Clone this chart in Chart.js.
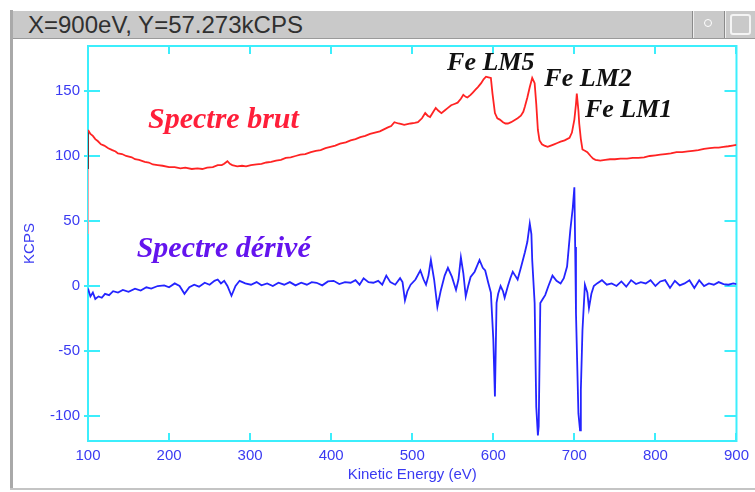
<!DOCTYPE html>
<html>
<head>
<meta charset="utf-8">
<script src="https://cdn.jsdelivr.net/npm/chart.js@4.4.1/dist/chart.umd.min.js"></script>
<style>
  body { margin: 0; background: #fff; }
  #wrap { position: relative; width: 755px; height: 492px; overflow: hidden; }
  #chart { position: absolute; left: 0; top: 0; }
  .bar { position: absolute; background: #c9c9c9; }
  #titlebar { left: 13px; top: 11px; width: 742px; height: 27px; border-bottom: 1px solid #9a9a9a; }
  #titletext { position: absolute; left: 15px; top: 0; line-height: 27px; font: 24px "Liberation Sans", Arial, sans-serif; color: #303030; }
  .sep { position: absolute; top: 0; width: 1px; height: 27px; background: #8a8a8a; border-right: 1px solid #eee; }
  #dot { position: absolute; left: 691px; top: 8px; width: 6px; height: 6px; border: 1px solid #fff; border-radius: 50%; }
  #box { position: absolute; left: 717px; top: 3px; width: 17px; height: 17px; border: 2px solid #f4f4f4; border-radius: 3px; }
  #leftedge { left: 10px; top: 10px; width: 3px; height: 480px; background: #a9a9a9; }
  #bottomedge { left: 10px; top: 488px; width: 745px; height: 2px; background: #c4c4c4; }
</style>
</head>
<body>
<div id="wrap">
  <canvas id="chart" width="755" height="492"></canvas>
  <div class="bar" id="leftedge"></div>
  <div class="bar" id="bottomedge"></div>
  <div class="bar" id="titlebar">
    <span id="titletext">X=900eV, Y=57.273kCPS</span>
    <div class="sep" style="left:679px"></div>
    <div class="sep" style="left:711px"></div>
    <div id="dot"></div>
    <div id="box"></div>
  </div>
</div>
<script>
// spectre brut (kCPS vs eV)
const rawEnergy = [100, 100, 100, 103, 106, 109, 112, 116, 120, 125, 130, 134, 137, 142, 147, 154, 158, 163,
  170, 175, 180, 186, 192, 200, 207, 214, 220, 228, 235, 241, 247, 254, 260, 265, 268, 272, 275, 278,
  284, 290, 295, 301, 308, 314, 320, 326, 332, 338, 344, 350, 356, 362, 368, 375, 381, 387, 393, 399,
  405, 411, 418, 424, 430, 436, 442, 448, 454, 460, 465, 470, 474, 478, 483, 487, 490, 494, 498, 503,
  507, 512, 516, 519, 522, 526, 529, 532, 536, 540, 544, 548, 552, 556, 560, 563, 566, 568, 572, 575,
  578, 581, 585, 588, 591, 594, 597, 599, 602, 605, 608, 612, 615, 618, 622, 626, 630, 634, 637, 639,
  642, 645, 648, 651, 653, 655, 657, 660, 663, 667, 671, 675, 679, 683, 688, 694, 697, 700, 702, 703,
  705, 706, 708, 710, 713, 716, 720, 723, 726, 732, 738, 744, 750, 757, 765, 772, 779, 786, 793, 800,
  806, 812, 819, 826, 833, 840, 846, 853, 860, 867, 873, 878, 884, 890, 895, 900];
const rawCounts = [40, 90, 120, 117, 115.5, 113, 111.5, 109, 108, 106, 104.5, 103.5, 102, 101.5, 100, 99, 97.5, 97,
  95.5, 95, 93.5, 93, 92.5, 91.5, 91.5, 90.5, 91, 90, 90.5, 90, 91, 91.5, 93, 93, 94, 96, 94, 93,
  92, 92.5, 92, 93, 93.5, 94, 95, 95.5, 96.5, 97, 98.5, 99, 100, 101, 101.5, 103, 104, 104.5, 106, 107,
  108, 109.5, 110.5, 112, 113, 114.5, 115.5, 117, 118, 119, 120.5, 122, 123, 126, 125, 124.5, 124, 124.5, 125, 125.5,
  126, 129, 133, 131, 130, 134, 137, 135, 133, 135, 137, 139, 140, 141, 144, 147, 145.5, 145, 147, 149,
  151, 153, 156, 159, 161, 160.5, 160, 148, 133, 129, 128, 126, 125, 125, 126, 127.5, 129, 131, 134, 138,
  145, 153, 160, 156, 140, 120, 112, 109, 108, 107, 108, 109, 110, 111, 112, 114, 118, 128, 140, 148,
  135, 125, 113, 105, 104, 103, 100, 98, 97, 96.5, 97, 97.5, 97.5, 98, 98, 98.5, 98.5, 99, 100, 100.5,
  101, 101.5, 102, 103, 103, 103.5, 104, 104.5, 105.5, 106, 106.5, 106.5, 107, 107.5, 108, 108.5];

// spectre derive
const derivEnergy = [100, 103, 106, 109, 113, 117, 121, 126, 131, 137, 143, 150, 158, 165, 172, 178, 186,
  194, 200, 207, 213, 219, 225, 231, 237, 244, 250, 256, 260, 264, 268, 272, 277, 282, 287, 294, 301,
  308, 314, 321, 328, 335, 342, 349, 356, 363, 370, 376, 382, 389, 396, 403, 410, 417, 424, 430, 435,
  440, 446, 452, 458, 463, 468, 473, 479, 485, 488, 491, 494, 498, 504, 510, 514, 517, 520, 523, 527,
  531, 535, 540, 544, 549, 554, 557, 560, 563, 566, 569, 572, 577, 583, 587, 590, 594, 597, 600, 602,
  604, 606, 609, 612, 614, 618, 621, 624, 627, 630, 634, 639, 642, 645, 647, 648, 651, 653, 655, 656,
  658, 661, 664, 668, 673, 678, 683, 687, 691, 695, 698, 700, 701, 702, 705, 707, 708, 710, 713, 716,
  718, 721, 724, 728, 734, 740, 746, 752, 758, 764, 770, 776, 782, 788, 794, 800, 806, 812, 818, 824,
  830, 836, 842, 848, 854, 860, 866, 872, 878, 884, 890, 896, 900];
const derivCounts = [-2, -8, -5, -10, -8, -9, -6, -7, -4, -5, -3, -4.5, -2, -3.5, -1, -2, 0,
  0.5, -1, 2, 0, -6, -1, 1, -0.5, 2.5, 1, 4, 5, 2, 4, 0, -7.5, 0, 4, 2, 1,
  3, 0.5, 2, 0, 2.5, 1, 3, 0.5, 2.5, 1, 3, 2.5, 0.5, 3.5, 4, 1.5, 3, 2.5, 4.5, 1,
  6, 3, 2.5, 4, 1, 8, 3, 1, 6, 3, -11, -4, 1, 5, 12, 5, 1, 8, 20, 5,
  -16, -4, 8, 14, 7, -3, 5, 22, 10, -8, 0, 7, 11, 20, 14, 12, 2, -5, -41, -85,
  -13, -6, 0, -4, -9, 0, 6, 11, 8, 5, 14, 26, 34, 48, 40, 20, -13, -93, -115, -108,
  -13, -10, -7, 0, 8, 4, 2, 6, 15, 43, 60, 76, 30, -21, -98, -111, -80, -34, 1, -5,
  -17, -6, 0, 2, 4.5, 1, 2, 0, 3.5, -0.5, 4.5, 1.5, 3, 2, 4.5, 0, 3.5, 4.5, -1.5, 4,
  0.5, 2, 4.5, -1.5, 4.5, 0, 2, 1, 3, 1.5, 1, 2, 1.5];

const xTickValues = [100, 200, 300, 400, 500, 600, 700, 800, 900];
const yTickValues = [-100, -50, 0, 50, 100, 150];

// labels placed in data units: [text, eV, kCPS, colour, size]
const labels = [
  ["Spectre brut", 174, 121.5, "#ff1f3a", 30],
  ["Spectre dérivé", 160, 22, "#6414ee", 30],
  ["Fe LM5", 543, 166, "#111", 26],
  ["Fe LM2", 663, 154, "#111", 26],
  ["Fe LM1", 713, 130, "#111", 26]
];

const axisBlue = "#3a3af2";
const frameCyan = "#3ceefc";

const toPoints = (xs, ys) => xs.map((x, i) => ({ x: x, y: ys[i] }));

const framePlugin = {
  id: "frame",
  beforeDatasetsDraw(chart) {
    const { ctx, chartArea: a, scales } = chart;
    ctx.save();
    ctx.strokeStyle = frameCyan;
    ctx.lineWidth = 2;
    ctx.strokeRect(a.left, a.top, a.right - a.left, a.bottom - a.top);
    ctx.beginPath();
    xTickValues.forEach((v) => {
      const px = Math.round(scales.x.getPixelForValue(v));
      ctx.moveTo(px, a.top); ctx.lineTo(px, a.top + 8);
      ctx.moveTo(px, a.bottom); ctx.lineTo(px, a.bottom - 8);
    });
    yTickValues.forEach((v) => {
      const py = Math.round(scales.y.getPixelForValue(v));
      ctx.moveTo(a.left - 4, py); ctx.lineTo(a.left + 12, py);
      ctx.moveTo(a.right, py); ctx.lineTo(a.right - 12, py);
    });
    ctx.stroke();
    ctx.restore();
  },
  afterDatasetsDraw(chart) {
    const { ctx, scales } = chart;
    ctx.save();
    labels.forEach(([text, ex, ey, color, size]) => {
      ctx.font = `italic bold ${size}px "Liberation Serif", "Times New Roman", serif`;
      ctx.fillStyle = color;
      ctx.textAlign = "left";
      ctx.textBaseline = "alphabetic";
      ctx.fillText(text, scales.x.getPixelForValue(ex), scales.y.getPixelForValue(ey));
    });
    ctx.restore();
  }
};

const axisFont = { family: "Liberation Sans", size: 15 };

new Chart(document.getElementById("chart"), {
  type: "line",
  data: {
    datasets: [
      {
        label: "Spectre brut",
        data: toPoints(rawEnergy, rawCounts),
        borderColor: "#ff2323",
        borderWidth: 1.8,
        pointRadius: 0,
        tension: 0,
        segment: {
          borderColor: (c) => (c.p0DataIndex === 0 ? "#ff9c9c" : c.p0DataIndex === 1 ? "#7a2424" : undefined)
        }
      },
      {
        label: "Spectre dérivé",
        data: toPoints(derivEnergy, derivCounts),
        borderColor: "#2424ff",
        borderWidth: 1.8,
        pointRadius: 0,
        tension: 0
      }
    ]
  },
  options: {
    responsive: false,
    animation: false,
    layout: { padding: { left: 0, right: 15, top: 46, bottom: 0 } },
    plugins: { legend: { display: false }, tooltip: { enabled: false } },
    scales: {
      x: {
        type: "linear",
        min: 100,
        max: 900,
        afterBuildTicks: (s) => { s.ticks = xTickValues.map((v) => ({ value: v })); },
        afterFit: (s) => { s.height = 51; },
        grid: { display: false, drawTicks: false },
        border: { display: false },
        ticks: { color: axisBlue, font: axisFont, padding: 6, maxRotation: 0, autoSkip: false },
        title: {
          display: true,
          text: "Kinetic Energy (eV)",
          color: axisBlue,
          font: axisFont,
          padding: { top: 0, bottom: 8 }
        }
      },
      y: {
        type: "linear",
        min: -119.2,
        max: 184.6,
        afterBuildTicks: (s) => { s.ticks = yTickValues.map((v) => ({ value: v })); },
        afterFit: (s) => { s.width = 88; },
        grid: { display: false, drawTicks: false },
        border: { display: false },
        ticks: { color: axisBlue, font: axisFont, padding: 8 },
        title: {
          display: true,
          text: "KCPS",
          color: axisBlue,
          font: axisFont,
          padding: { top: 21, bottom: 0 }
        }
      }
    }
  },
  plugins: [framePlugin]
});
</script>
</body>
</html>
